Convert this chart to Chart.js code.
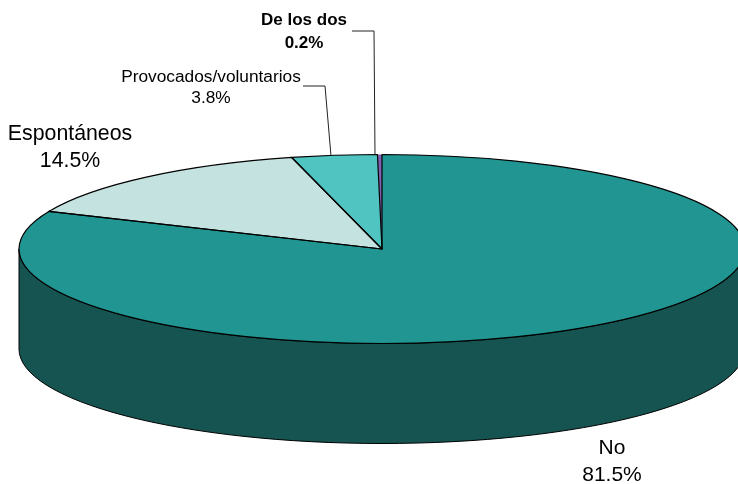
<!DOCTYPE html>
<html><head><meta charset="utf-8">
<style>html,body{margin:0;padding:0;background:#fff}#w{width:738px;height:484px;position:relative}</style>
<script src="https://cdn.jsdelivr.net/npm/chart.js@4"></script>
</head><body><div id="w"><canvas id="c" width="738" height="484"></canvas></div>
<script>
const categories = ["No", "Espontáneos", "Provocados/voluntarios", "De los dos"];
const shares = [81.5, 14.5, 3.8, 0.2];
const valueLabels = ["81.5%", "14.5%", "3.8%", "0.2%"];
const sliceColors = ["#209591", "#C4E2E0", "#50C4C0", "#7F5FB2"];
const sideColor = "#165452";
const SQUASH = 94.5 / 363, DEPTH = 100;
const FONT = '"Liberation Sans", Arial, sans-serif';
const labelSpec = [
  {x: 612, y: 448, dy: 27, font: '21px ' + FONT},
  {x: 70, y: 134, dy: 27, font: '21.3px ' + FONT},
  {x: 211, y: 77, dy: 21, font: '17.3px ' + FONT},
  {x: 304, y: 20, dy: 23, font: 'bold 17px ' + FONT}
];
const leaders = [null, null,
  [[303, 86], [325, 86], [331, 156]],
  [[352, 31], [374, 31], [375, 155]]
];
function ellipseSlice(ctx, el) {
  const p = el.getProps(['x', 'y', 'startAngle', 'endAngle', 'outerRadius'], true);
  ctx.beginPath();
  ctx.moveTo(p.x, p.y);
  ctx.ellipse(p.x, p.y, p.outerRadius, p.outerRadius * SQUASH, 0, p.startAngle, p.endAngle);
  ctx.closePath();
}
const squashPie = {
  id: 'squashPie',
  beforeDatasetsDraw(chart) {
    const ctx = chart.ctx, arcs = chart.getDatasetMeta(0).data, a = arcs[0];
    const cx = a.x, cy = a.y, rx = a.outerRadius, ry = rx * SQUASH;
    ctx.save();
    ctx.beginPath();
    ctx.moveTo(cx - rx, cy);
    ctx.lineTo(cx - rx, cy + DEPTH);
    ctx.ellipse(cx, cy + DEPTH, rx, ry, 0, Math.PI, 0, true);
    ctx.lineTo(cx + rx, cy);
    ctx.ellipse(cx, cy, rx, ry, 0, 0, Math.PI, false);
    ctx.closePath();
    ctx.fillStyle = sideColor;
    ctx.fill();
    ctx.strokeStyle = '#000';
    ctx.lineWidth = 1;
    ctx.stroke();
    ctx.restore();
    ctx.save();
    ctx.translate(cx, cy);
    ctx.scale(1, SQUASH);
    ctx.translate(-cx, -cy);
  },
  afterDatasetsDraw(chart) {
    const ctx = chart.ctx;
    ctx.restore();
    ctx.save();
    ctx.strokeStyle = '#000';
    ctx.lineWidth = 1.2;
    ctx.lineJoin = 'round';
    const arcs = chart.getDatasetMeta(0).data;
    arcs.slice(0, 3).forEach(el => { ellipseSlice(ctx, el); ctx.stroke(); });
    ctx.lineWidth = 1;
    ctx.strokeStyle = '#222';
    leaders.forEach(l => {
      if (!l) return;
      ctx.beginPath();
      l.forEach((pt, i) => i ? ctx.lineTo(pt[0], pt[1]) : ctx.moveTo(pt[0], pt[1]));
      ctx.stroke();
    });
    ctx.fillStyle = '#000';
    ctx.textAlign = 'center';
    ctx.textBaseline = 'middle';
    categories.forEach((name, i) => {
      const s = labelSpec[i];
      ctx.font = s.font;
      ctx.fillText(name, s.x, s.y);
      ctx.fillText(valueLabels[i], s.x, s.y + s.dy);
    });
    ctx.restore();
  }
};
new Chart(document.getElementById('c'), {
  type: 'pie',
  data: {labels: categories, datasets: [{data: shares, backgroundColor: sliceColors, borderWidth: 0, clip: false}]},
  options: {
    responsive: false, animation: false, radius: 363,
    layout: {padding: {left: 26, top: 14}},
    plugins: {legend: {display: false}, tooltip: {enabled: false}}
  },
  plugins: [squashPie]
});
</script></body></html>
